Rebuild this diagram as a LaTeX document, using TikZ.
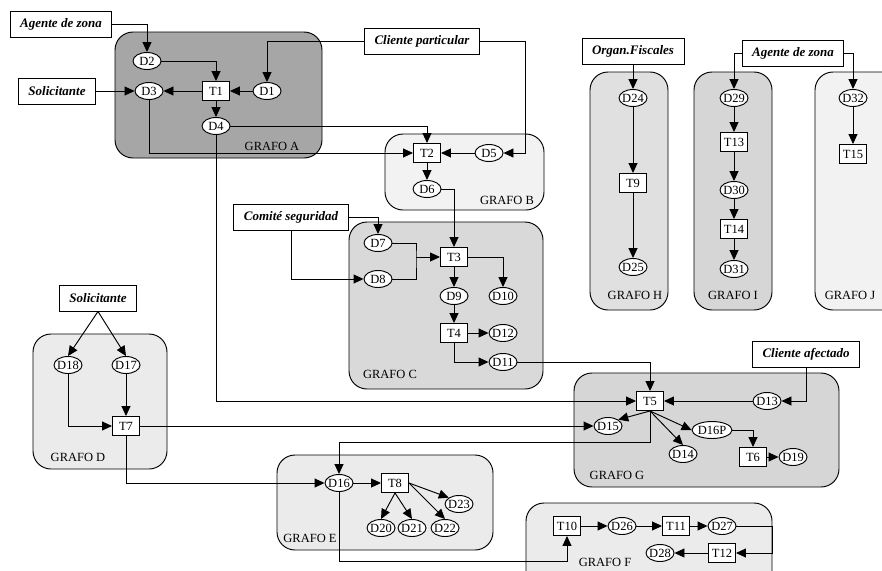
\documentclass[tikz,border=0pt]{standalone}
\usepackage{fontspec}
\setmainfont{Liberation Serif}
\usetikzlibrary{arrows.meta,shapes.geometric}

\begin{document}
\begin{tikzpicture}[x=1pt,y=-1pt,line width=.95pt,
		>={Triangle[length=10pt,width=9pt]},
		every node/.style={font=\fontsize{12.5}{13}\selectfont},
		dato/.style={ellipse,draw,fill=white,minimum width=28pt,minimum height=17pt,inner sep=0pt},
		trans/.style={rectangle,draw,fill=white,minimum width=27pt,minimum height=19pt,inner sep=1pt},
		actor/.style={rectangle,draw,fill=white,minimum height=26pt,inner xsep=10pt,font=\fontsize{13}{14}\selectfont\bfseries\itshape},
		grafo/.style={draw,rounded corners=18pt}]
		\useasboundingbox (0,0) rectangle (882,570);
		\clip (0,0) rectangle (882,570);
		% zonas
		\foreach \g/\f/\xa/\ya/\xb/\yb/\xl/\yl in {A/35/115/32/322/158/272/146, B/5/385/134/544/210/507/200, C/15/349/222/543/389/390/374,
			D/8/33/334/167/469/78/457, E/8/277/455/493/550/310/538, F/8/526/503/772/600/605/562, G/16/574/373/839/487/617/475,
			H/12/590/72/668/310/635/295, I/16/694/72/772/310/733/295, J/5/815/72/900/310/850/295}{
			\draw[grafo,fill=black!\f] (\xa,\ya) rectangle (\xb,\yb);
			\node (g\g) at (\xl,\yl) {GRAFO \g};
		}
		% actores
		\node[actor] (agenteA) at (61,24) {Agente de zona};
		\node[actor] (solicA) at (57,91) {Solicitante};
		\node[actor] (clienteP) at (422,41) {Cliente particular};
		\node[actor] (comite) at (291,217) {Comité seguridad};
		\node[actor] (solicD) at (98,298) {Solicitante};
		\node[actor] (clienteA) at (806,354) {Cliente afectado};
		\node[actor] (organ) at (633,51) {Organ.Fiscales};
		\node[actor] (agenteI) at (793,53) {Agente de zona};
		% datos y transacciones
		\foreach \n/\x/\y in {D1/267/91, D2/147/61, D3/149/91, D4/216/126, D5/489/153, D6/427/189, D7/378/243, D8/378/279,
			D9/454/296, D10/503/296, D11/503/362, D12/503/333, D13/767/401, D14/683/454, D15/608/426, D16/339/483,
			D17/126/365, D18/68/365, D19/793/457, D20/381/528, D21/412/528, D22/445/528, D23/459/504, D24/633/98,
			D25/633/267, D26/622/526, D27/722/526, D28/660/553, D29/734/98, D30/734/190, D31/734/269, D32/853/98}
			\node[dato] (\n) at (\x,\y) {\makebox[0pt]{\n}};
		\node[dato,minimum width=40pt] (D16P) at (712,430) {\makebox[0pt]{D16P}};
		\foreach \n/\x/\y in {T1/216/91, T2/427/153, T3/454/257, T4/454/333, T5/650/401, T6/753/457, T7/126/426, T8/395/483,
			T9/633/183, T10/567/526, T11/676/526, T12/722/553, T13/734/142, T14/734/229, T15/853/154}
			\node[trans] (\n) at (\x,\y) {\n};
		\coordinate (jC) at (416,257);
		\coordinate (kG) at (339,442);
		\coordinate (kF) at (567,561);
		% grafo A y B
		\draw[->] (agenteA.east) -| (D2.north);
		\draw[->] (D2.east) -| (T1.north);
		\draw[->] (solicA.east) -- (D3.west);
		\draw[->] (T1.west) -- (D3.east);
		\draw[->] (D1.west) -- (T1.east);
		\draw[->] (T1.south) -- (D4.north);
		\draw[->] (clienteP.west) -| (D1.north);
		\draw[->] (clienteP.east) -- ++(46,0) |- (D5.east);
		\draw[->] (D4.east) -| (T2.north);
		\draw[->] (D3.south) |- (T2.west);
		\draw[->] (D5.west) -- (T2.east);
		\draw[->] (T2.south) -- (D6.north);
		% grafo C
		\draw[->] (D6.east) -| (T3.north);
		\draw[->] (comite.east) -| (D7.north);
		\draw[->] (comite.south) |- (D8.west);
		\draw (D7.east) -| (jC) |- (D8.east);
		\draw[->] (jC) -- (T3.west);
		\draw[->] (T3.east) -| (D10.north);
		\draw[->] (T3.south) -- (D9.north);
		\draw[->] (D9.south) -- (T4.north);
		\draw[->] (T4.east) -- (D12.west);
		\draw[->] (T4.south) |- (D11.west);
		% grafo D
		\draw[->] (solicD.south) -- (D18.north);
		\draw[->] (solicD.south) -- (D17.north);
		\draw[->] (D18.south) |- (T7.west);
		\draw[->] (D17.south) -- (T7.north);
		% grafo G
		\draw[->] (D11.east) -| (T5.north);
		\draw[->] (D4.south) |- (T5.west);
		\draw[->] (clienteA.south) |- (D13.east);
		\draw[->] (D13.west) -- (T5.east);
		\draw[->] (T7.east) -- (D15.west);
		\draw[->] (T5.south) -- (D15.north east);
		\draw[->] (T5.south) -- (D14.north);
		\draw[->] (T5.south) -- (D16P.west);
		\draw[->] (D16P.east) -| (T6.north);
		\draw[->] (T6.east) -- (D19.west);
		% grafo E
		\draw[->] (T5.south) |- (kG) -- (D16.north);
		\draw[->] (T7.south) |- (D16.west);
		\draw[->] (D16.east) -- (T8.west);
		\draw[->] (T8.south) -- (D20.north);
		\draw[->] (T8.south) -- (D21.north);
		\draw[->] (T8.east) -- (D22.north);
		\draw[->] (T8.east) -- (D23.north west);
		% grafo F
		\draw[->] (D16.south) |- (kF) -- (T10.south);
		\draw[->] (T10.east) -- (D26.west);
		\draw[->] (D26.east) -- (T11.west);
		\draw[->] (T11.east) -- (D27.west);
		\draw[->] (D27.east) -- ++(36,0) |- (T12.east);
		\draw[->] (T12.west) -- (D28.east);
		% grafos H, I, J
		\draw[->] (organ.south) -- (D24.north);
		\draw[->] (D24.south) -- (T9.north);
		\draw[->] (T9.south) -- (D25.north);
		\draw[->] (agenteI.west) -| (D29.north);
		\draw[->] (agenteI.east) -| (D32.north);
		\draw[->] (D29.south) -- (T13.north);
		\draw[->] (T13.south) -- (D30.north);
		\draw[->] (D30.south) -- (T14.north);
		\draw[->] (T14.south) -- (D31.north);
		\draw[->] (D32.south) -- (T15.north);
	\end{tikzpicture}
\end{document}
